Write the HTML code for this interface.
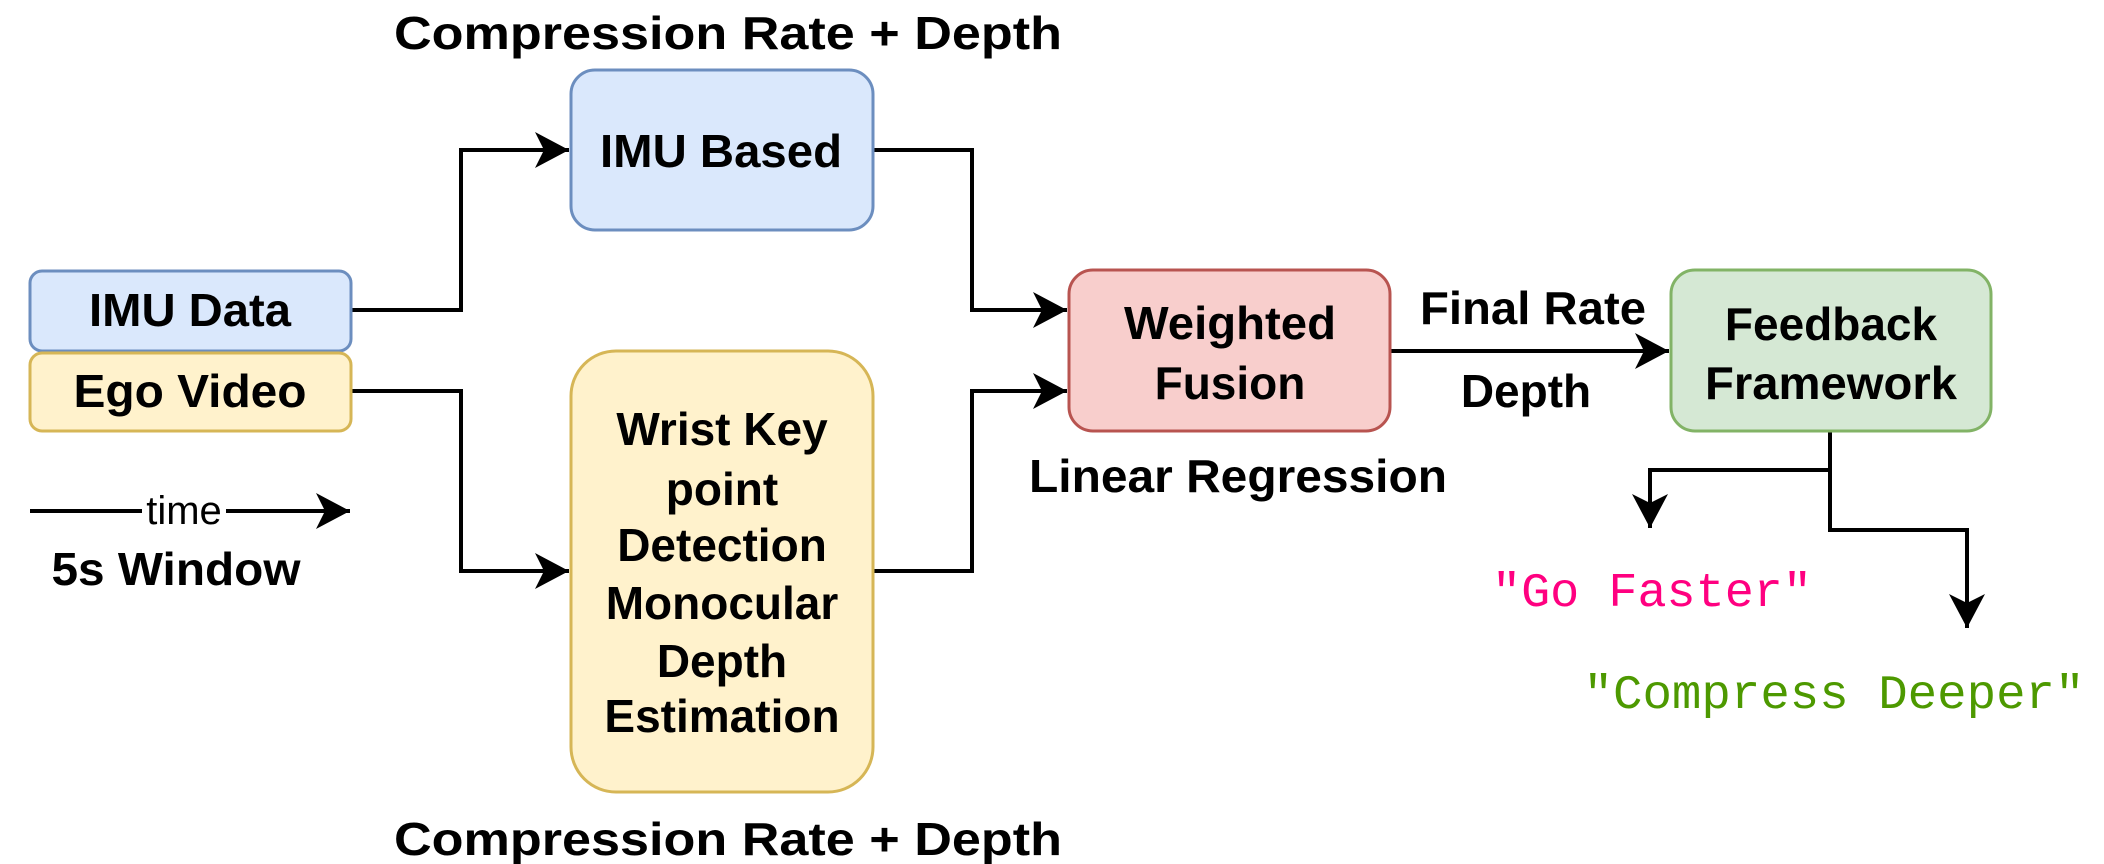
<!DOCTYPE html>
<html><head><meta charset="utf-8"><style>
html,body{margin:0;padding:0;background:#fff;}
svg{display:block;}
text{font-family:"Liberation Sans",Arial,sans-serif;font-weight:bold;fill:#000;}
.m{font-family:"Liberation Mono",monospace;font-weight:normal;}
</style></head><body>
<svg width="2104" height="864" viewBox="0 0 2104 864" xmlns="http://www.w3.org/2000/svg">
<defs>
<marker id="a" markerUnits="userSpaceOnUse" markerWidth="40" markerHeight="40" refX="34" refY="18" orient="auto">
<path d="M0,0 L34,18 L0,36 L9,18 Z" fill="#000"/>
</marker>
</defs>
<g fill="none" stroke="#000" stroke-width="4">
<polyline points="351,310 461,310 461,150 569,150" marker-end="url(#a)"/>
<polyline points="351,391 461,391 461,571 569,571" marker-end="url(#a)"/>
<polyline points="874,150 972,150 972,310 1067,310" marker-end="url(#a)"/>
<polyline points="874,571 972,571 972,391 1067,391" marker-end="url(#a)"/>
<polyline points="1391,351 1669,351" marker-end="url(#a)"/>
<polyline points="1830,432 1830,470 1650,470 1650,528" marker-end="url(#a)"/>
<polyline points="1830,470 1830,530 1967,530 1967,628" marker-end="url(#a)"/>
<line x1="30" y1="511" x2="142" y2="511"/>
<polyline points="226,511 350,511" marker-end="url(#a)"/>
</g>
<g stroke-width="3">
<rect x="30" y="271" width="321" height="80" rx="12" fill="#dae8fc" stroke="#6c8ebf"/>
<rect x="30" y="353" width="321" height="78" rx="12" fill="#fff2cc" stroke="#d6b656"/>
<rect x="571" y="70" width="302" height="160" rx="24" fill="#dae8fc" stroke="#6c8ebf"/>
<rect x="571" y="351" width="302" height="441" rx="45" fill="#fff2cc" stroke="#d6b656"/>
<rect x="1069" y="270" width="321" height="161" rx="24" fill="#f8cecc" stroke="#b85450"/>
<rect x="1671" y="270" width="320" height="161" rx="24" fill="#d5e8d4" stroke="#82b366"/>
</g>
<g font-size="46" text-anchor="middle">
<text x="728" y="49" textLength="668" lengthAdjust="spacingAndGlyphs">Compression Rate + Depth</text>
<text x="728" y="855" textLength="668" lengthAdjust="spacingAndGlyphs">Compression Rate + Depth</text>
<text x="190" y="326" textLength="202" lengthAdjust="spacingAndGlyphs">IMU Data</text>
<text x="190" y="407" textLength="233" lengthAdjust="spacingAndGlyphs">Ego Video</text>
<text x="721" y="167" textLength="242" lengthAdjust="spacingAndGlyphs">IMU Based</text>
<text x="722" y="445">Wrist Key</text>
<text x="722" y="505">point</text>
<text x="722" y="561">Detection</text>
<text x="722" y="619">Monocular</text>
<text x="722" y="677">Depth</text>
<text x="722" y="732">Estimation</text>
<text x="1230" y="339" textLength="212" lengthAdjust="spacingAndGlyphs">Weighted</text>
<text x="1230" y="399">Fusion</text>
<text x="1533" y="324" textLength="226" lengthAdjust="spacingAndGlyphs">Final Rate</text>
<text x="1526" y="407">Depth</text>
<text x="1831" y="340">Feedback</text>
<text x="1831" y="399" textLength="252" lengthAdjust="spacingAndGlyphs">Framework</text>
<text x="1238" y="492" textLength="418" lengthAdjust="spacingAndGlyphs">Linear Regression</text>
<text x="176" y="585" textLength="249" lengthAdjust="spacingAndGlyphs">5s Window</text>
</g>
<text x="184" y="524" font-size="40" text-anchor="middle" style="font-weight:normal">time</text>
<text class="m" x="1652" y="606" font-size="48" text-anchor="middle" style="fill:#ff0080" textLength="320" lengthAdjust="spacingAndGlyphs">"Go Faster"</text>
<text class="m" x="1834" y="708" font-size="48" text-anchor="middle" style="fill:#4d9900" textLength="501" lengthAdjust="spacingAndGlyphs">"Compress Deeper"</text>
</svg>
</body></html>
